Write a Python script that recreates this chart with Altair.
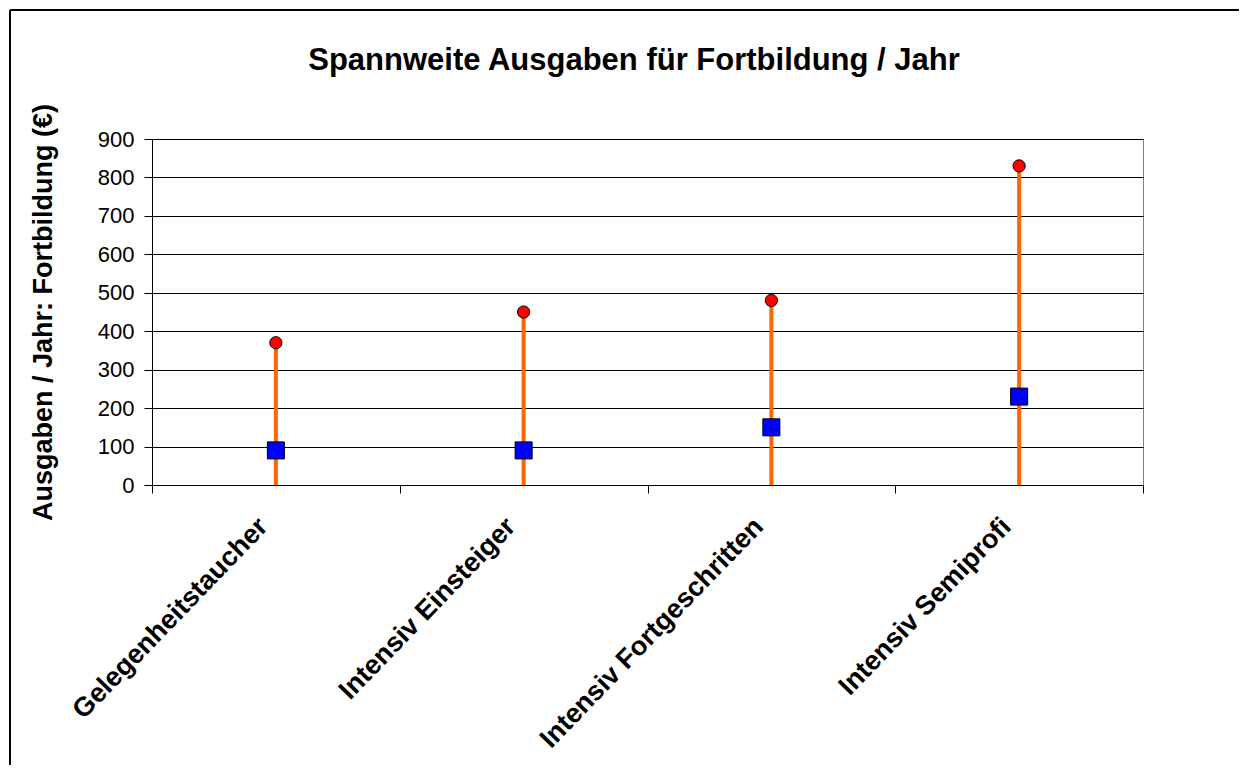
import altair as alt
import pandas as pd

categories = ["Gelegenheitstaucher", "Intensiv Einsteiger", "Intensiv Fortgeschritten", "Intensiv Semiprofi"]
max_values = [370, 450, 480, 830]
mid_values = [90, 90, 150, 230]
min_values = [0, 0, 0, 0]
y_ticks = [0, 100, 200, 300, 400, 500, 600, 700, 800, 900]

title_text = "Spannweite Ausgaben für Fortbildung / Jahr"
y_title = "Ausgaben / Jahr: Fortbildung (€)"

df = pd.DataFrame({"cat": categories, "max": max_values, "mid": mid_values, "min": min_values})

FONT = "Liberation Sans"
W, H = 991, 346

x_axis = alt.Axis(labelAngle=-46, labelAlign="right", labelBaseline="middle",
                  labelFont=FONT, labelFontSize=27, labelFontWeight="bold",
                  labelColor="black", labelPadding=29, labelOffset=-13, tickBand="extent",
                  tickSize=8, tickColor="black", domainColor="black",
                  grid=False, labelLimit=500)
x_scale = alt.Scale(paddingInner=0, paddingOuter=0)
y_scale = alt.Scale(domain=[0, 900], nice=False)
y_axis = alt.Axis(values=y_ticks, labelFont=FONT, labelFontSize=22, labelColor="black",
                  labelOverlap=False, tickSize=8, tickColor="black", domainColor="black",
                  labelPadding=10, grid=True, gridColor="black", gridWidth=1,
                  gridOpacity=1, titleFont=FONT, titleFontSize=27,
                  titleFontWeight="bold", titleColor="black", titlePadding=40)


def xe():
    return alt.X("cat:N", sort=categories, title=None, scale=x_scale, axis=x_axis)


def ye(field):
    return alt.Y(field, scale=y_scale, title=y_title, axis=y_axis)


base = alt.Chart(df)

lines = base.mark_rule(color="#FF6600", strokeWidth=4).encode(
    x=xe(), y=ye("min:Q"), y2="max:Q")

circles = base.mark_point(shape="circle", filled=True, fill="#FF0000", stroke="black",
                          strokeWidth=1, size=150, opacity=1).encode(
    x=xe(), y=ye("max:Q"))

squares = base.mark_point(shape="square", filled=True, fill="#0000FF", stroke="black",
                          strokeWidth=1, size=290, opacity=1).encode(
    x=xe(), y=ye("mid:Q"))

one = pd.DataFrame({"t": [title_text]})
title = alt.Chart(one).mark_text(font=FONT, fontSize=31, fontWeight="bold", color="black",
                                 align="center", baseline="middle").encode(
    text="t:N", x=alt.value(482), y=alt.value(-78))

border_left = alt.Chart(one).mark_rule(color="black", strokeWidth=2).encode(
    x=alt.value(-142), y=alt.value(-129), y2=alt.value(700))
border_top = alt.Chart(one).mark_rule(color="black", strokeWidth=2).encode(
    x=alt.value(-142), x2=alt.value(1200), y=alt.value(-129))

chart = alt.layer(lines, circles, squares, title, border_left, border_top).properties(
    width=W, height=H,
    autosize=alt.AutoSizeParams(type="none"),
    padding={"left": 144, "top": 131, "right": 96, "bottom": 280},
).configure(background="white", view=alt.ViewConfig(stroke="#808080", strokeWidth=1))

chart.save("out.html", embed_options={"renderer": "svg", "actions": False})
